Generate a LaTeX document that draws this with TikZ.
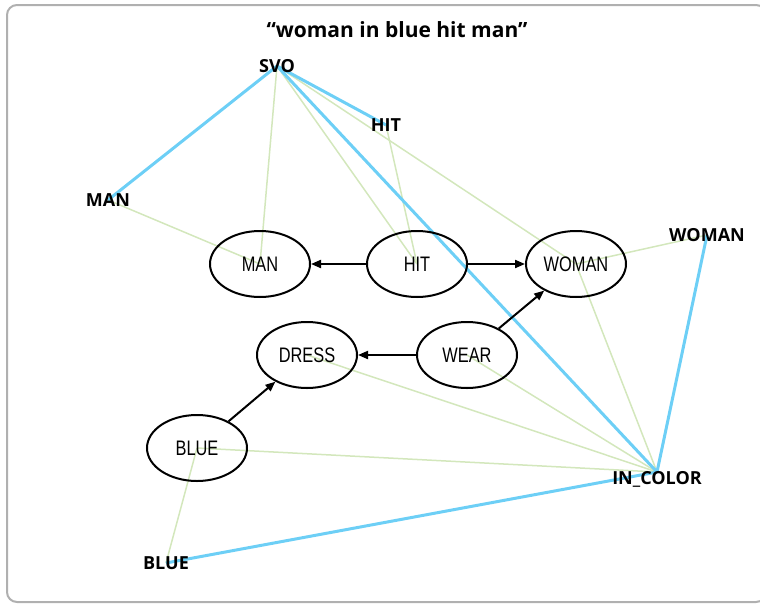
\documentclass[tikz,border=0pt]{standalone}
\usepackage{fontspec}
\usetikzlibrary{shapes.geometric,arrows.meta}
\setmainfont{Open Sans}
\newfontfamily\tagfont{Open Sans}
\newfontfamily\conceptfont[FakeStretch=0.78]{Liberation Sans}
\definecolor{linkblue}{HTML}{6DCFF6}
\definecolor{assocgreen}{HTML}{D3E7BC}
\definecolor{framegray}{HTML}{B0B0B0}
\pgfdeclarelayer{back}
\pgfsetlayers{back,main}
\tikzset{
  tag/.style={font=\tagfont\bfseries\fontsize{18}{20}\selectfont, inner sep=0pt},
  concept/.style={draw, line width=2pt, ellipse, minimum width=100pt, minimum height=66pt,
    inner sep=0pt, font=\conceptfont\fontsize{21}{24}\selectfont},
  link/.style={draw=linkblue, line width=3pt},
  assoc/.style={draw=assocgreen, line width=1.5pt},
  rel/.style={draw=black, line width=2pt, -{Triangle[length=10pt,width=8pt]}},
}
\begin{document}
\begin{tikzpicture}[x=1pt,y=-1pt]
  \useasboundingbox (0,0) rectangle (760,603);
  % panel frame
  \draw[framegray, line width=2pt, rounded corners=10pt] (7,5) rectangle (766,602);

  % title
  \node[font=\tagfont\bfseries\fontsize{21}{24}\selectfont, inner sep=0pt] (title) at (397,30) {“woman in blue hit man”};

  % labels
  \node[tag] (svo) at (277,66) {SVO};
  \node[tag] (hitL) at (386,125) {HIT};
  \node[tag] (manL) at (108,200) {MAN};
  \node[tag] (womanL) at (707,235) {WOMAN};
  \node[tag] (incolor) at (657,479) {IN\_COLOR};
  \node[tag] (blueL) at (166,563) {BLUE};
  \coordinate (ich) at (657,472);

  % concept ellipses
  \node[concept] (man) at (260,264) {MAN};
  \node[concept] (hit) at (417,264) {HIT};
  \node[concept] (woman) at (576,264) {WOMAN};
  \node[concept] (wear) at (467,355) {WEAR};
  \node[concept] (dress) at (307,355) {DRESS};
  \node[concept] (blue) at (197,448) {BLUE};

  \begin{pgfonlayer}{back}
    % associations
    \draw[assoc] (svo.center) -- (man.center);
    \draw[assoc] (svo.center) -- (hit.center);
    \draw[assoc] (svo.center) -- (woman.center);
    \draw[assoc] (hitL.center) -- (hit.center);
    \draw[assoc] (manL.center) -- (man.center);
    \draw[assoc] (womanL.center) -- (woman.center);
    \draw[assoc] (woman.center) -- (ich);
    \draw[assoc] (wear.center) -- (ich);
    \draw[assoc] (dress.center) -- (ich);
    \draw[assoc] (blue.center) -- (ich);
    \draw[assoc] (blue.center) -- (blueL.center);
    % links
    \draw[link] (svo.center) -- (manL.center);
    \draw[link] (svo.center) -- (hitL.center);
    \draw[link] (svo.center) -- (ich);
    \draw[link] (womanL.center) -- (ich);
    \draw[link] (blueL.center) -- (ich);
  \end{pgfonlayer}

  % relations
  \draw[rel] (hit) -- (man);
  \draw[rel] (hit) -- (woman);
  \draw[rel] (wear) -- (woman);
  \draw[rel] (wear) -- (dress);
  \draw[rel] (blue) -- (dress);
\end{tikzpicture}
\end{document}
